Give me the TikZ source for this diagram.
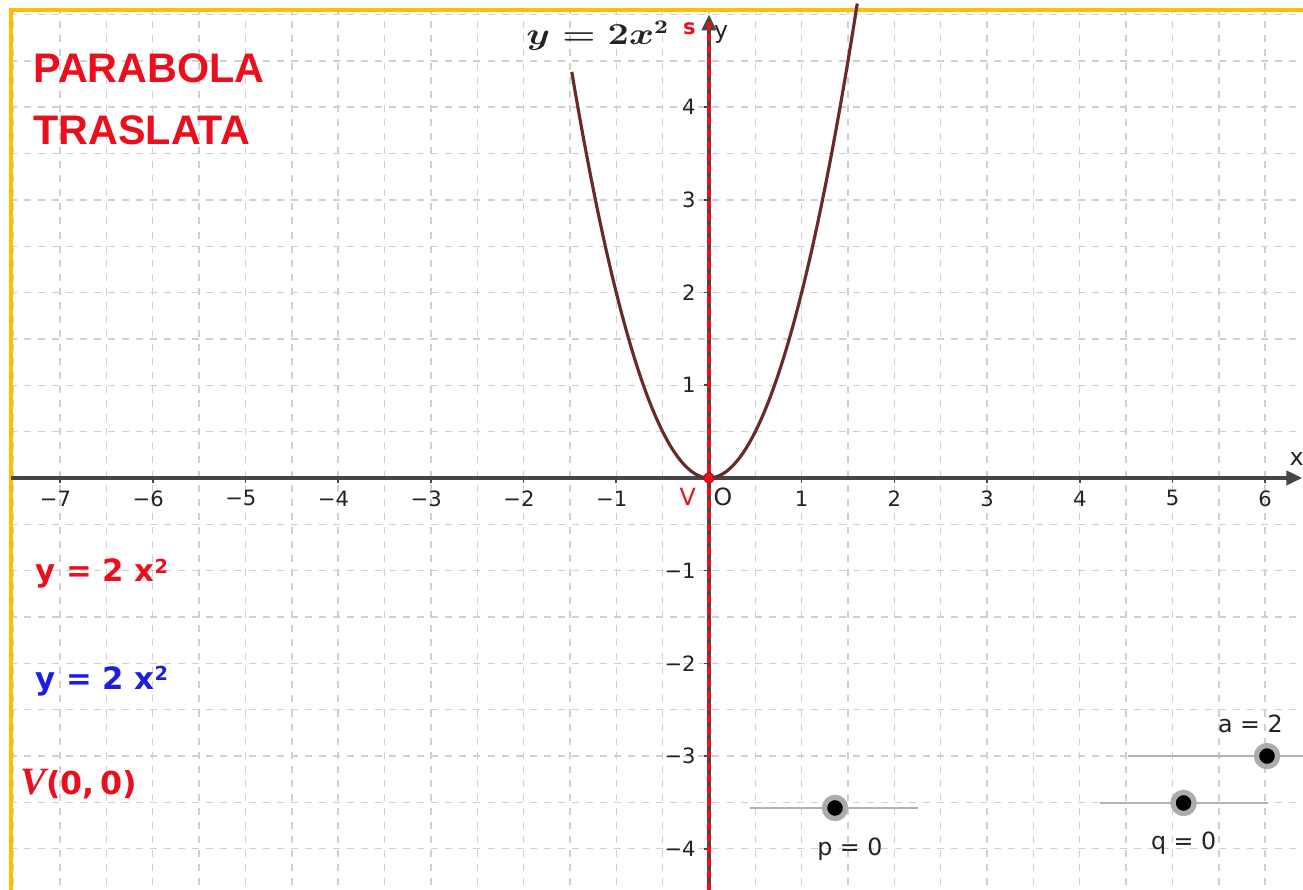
\documentclass[tikz,border=0pt]{standalone}
\usepackage{fontspec}
\usepackage{amsmath}
\usetikzlibrary{arrows.meta}
\newfontfamily\ggb{DejaVu Sans}
\newfontfamily\titlefont{Liberation Sans}
\newfontfamily\serifb{Liberation Serif}
\definecolor{ggred}{RGB}{235,15,30}
\definecolor{ggblue}{RGB}{30,30,225}
\definecolor{ggframe}{RGB}{255,190,0}
\definecolor{ggcurve}{RGB}{105,42,42}
\definecolor{ggaxis}{RGB}{70,70,70}
\definecolor{gggrid}{RGB}{208,208,208}
\definecolor{ggtext}{RGB}{35,35,35}
\begin{document}
\begin{tikzpicture}[x=1.854cm,y=1.854cm,
  gridline/.style={draw=gggrid, line width=0.8pt, dash pattern=on 4pt off 4pt},
  axisline/.style={draw=ggaxis, line width=2pt, -{Triangle[length=9pt,width=8pt]}},
  symaxis/.style={draw=ggred, line width=2pt, dash pattern=on 4.5pt off 2.3pt},
  ticklab/.style={font=\ggb\fontsize{12}{14}\selectfont, text=ggtext, inner sep=0pt},
  sliderline/.style={draw=gray!60, line width=1.1pt},
  sliderlab/.style={font=\ggb\fontsize{13.5}{15}\selectfont, text=ggtext, inner sep=0pt},
  titlelab/.style={font=\titlefont\bfseries\fontsize{23.5}{27}\selectfont, text=ggred, anchor=west, inner sep=0pt},
  eqlab/.style={font=\ggb\bfseries\fontsize{17.5}{20}\selectfont, anchor=west, inner sep=0pt},
  knob/.style={circle, fill=black, inner sep=0pt, minimum size=12pt, draw=gray!65, line width=3pt}
]
\useasboundingbox (-7.648,-4.444) rectangle (6.408,5.156);
\fill[white] (-7.648,-4.444) rectangle (6.408,5.156);
% grid
\begin{scope}
\clip (-7.53,-4.444) rectangle (6.408,5.05);
\draw[gridline, step=0.5] (-8,-5) grid (7,5.5);
\end{scope}
% frame
\draw[ggframe, line width=2.3pt] (-7.53,-4.444) -- (-7.53,5.05) -- (6.408,5.05);
% axes
\coordinate (xs) at (-7.53,0);
\coordinate (xe) at (6.40,0);
\coordinate (ys) at (0,-4.444);
\coordinate (ye) at (0,5.0);
\draw[axisline] (xs) -- (xe);
\draw[axisline] (ys) -- (ye);
\foreach \k in {-7,...,-1,1,2,...,6} \draw[ggaxis, line width=0.9pt] (\k,0) -- (\k,-0.05);
\foreach \k in {-4,...,-1,1,2,3,4} \draw[ggaxis, line width=0.9pt] (0,\k) -- (-0.05,\k);
% tick labels
\foreach \k in {1,...,7} \node[ticklab] (xm\k) at (-\k-0.05,-0.22) {−\k};
\foreach \k in {1,...,6} \node[ticklab] (xp\k) at (\k,-0.22) {\k};
\foreach \k in {1,...,4} \node[ticklab, anchor=east] (yp\k) at (-0.14,\k) {\k};
\foreach \k in {1,...,4} \node[ticklab, anchor=east] (ym\k) at (-0.14,-\k) {−\k};
\node[ticklab, font=\ggb\fontsize{13.5}{15}\selectfont] (O) at (0.15,-0.2) {O};
\node[ticklab, font=\ggb\fontsize{13.5}{15}\selectfont] (xlab) at (6.34,0.2) {x};
\node[ticklab, font=\ggb\fontsize{13.5}{15}\selectfont] (ylab) at (0.13,4.78) {y};
% symmetry axis
\coordinate (ss) at (0,-4.444);
\coordinate (se) at (0,4.95);
\draw[symaxis] (ss) -- (se);
\node[ticklab, text=ggred, font=\ggb\bfseries\fontsize{12}{14}\selectfont] (slab) at (-0.21,4.85) {s};
% parabola
\draw[ggcurve, line width=1.8pt] plot[domain=-1.48:1.6, samples=120, smooth] (\x,{2*(\x)*(\x)});
\node[inner sep=0pt, text=ggtext, font=\fontsize{16}{18}\selectfont] (plab) at (-1.2,4.77) {\scalebox{1.25}[1]{$\boldsymbol{y=2x^{2}}$}};
% vertex
\node[circle, fill=ggred, draw=ggred!70!black, line width=0.4pt, inner sep=0pt, minimum size=6pt] (V) at (0,0) {};
\node[ticklab, text=ggred, font=\ggb\fontsize{13.5}{15}\selectfont] (Vlab) at (-0.23,-0.2) {V};
% titles
\node[titlelab] (t1) at (-7.29,4.42) {PARABOLA};
\node[titlelab] (t2) at (-7.29,3.75) {TRASLATA};
\node[eqlab, text=ggred] (e1) at (-7.27,-1.03) {y = 2 x\raisebox{0.5ex}{\fontsize{11}{12}\selectfont 2}};
\node[eqlab, text=ggblue] (e2) at (-7.27,-2.19) {y = 2 x\raisebox{0.5ex}{\fontsize{11}{12}\selectfont 2}};
\node[anchor=west, inner sep=0pt, text=ggred, font=\fontsize{18}{22}\selectfont] (e3) at (-7.43,-3.3) {{\serifb\bfseries\itshape\fontsize{22}{24}\selectfont V}{\ggb\bfseries (0,\,0)}};
% sliders
\coordinate (a1) at (4.52,-3.0); \coordinate (a2) at (6.41,-3.0);
\coordinate (q1) at (4.22,-3.506); \coordinate (q2) at (6.03,-3.506);
\coordinate (p1) at (0.44,-3.56); \coordinate (p2) at (2.25,-3.56);
\draw[sliderline] (a1) -- (a2);
\draw[sliderline] (q1) -- (q2);
\draw[sliderline] (p1) -- (p2);
\node[knob] (ka) at (6.02,-3.0) {};
\node[knob] (kq) at (5.12,-3.506) {};
\node[knob] (kp) at (1.36,-3.56) {};
\node[sliderlab] (alab) at (5.84,-2.65) {a = 2};
\node[sliderlab] (qlab) at (5.12,-3.94) {q = 0};
\node[sliderlab] (plab2) at (1.52,-4.0) {p = 0};
\end{tikzpicture}
\end{document}
